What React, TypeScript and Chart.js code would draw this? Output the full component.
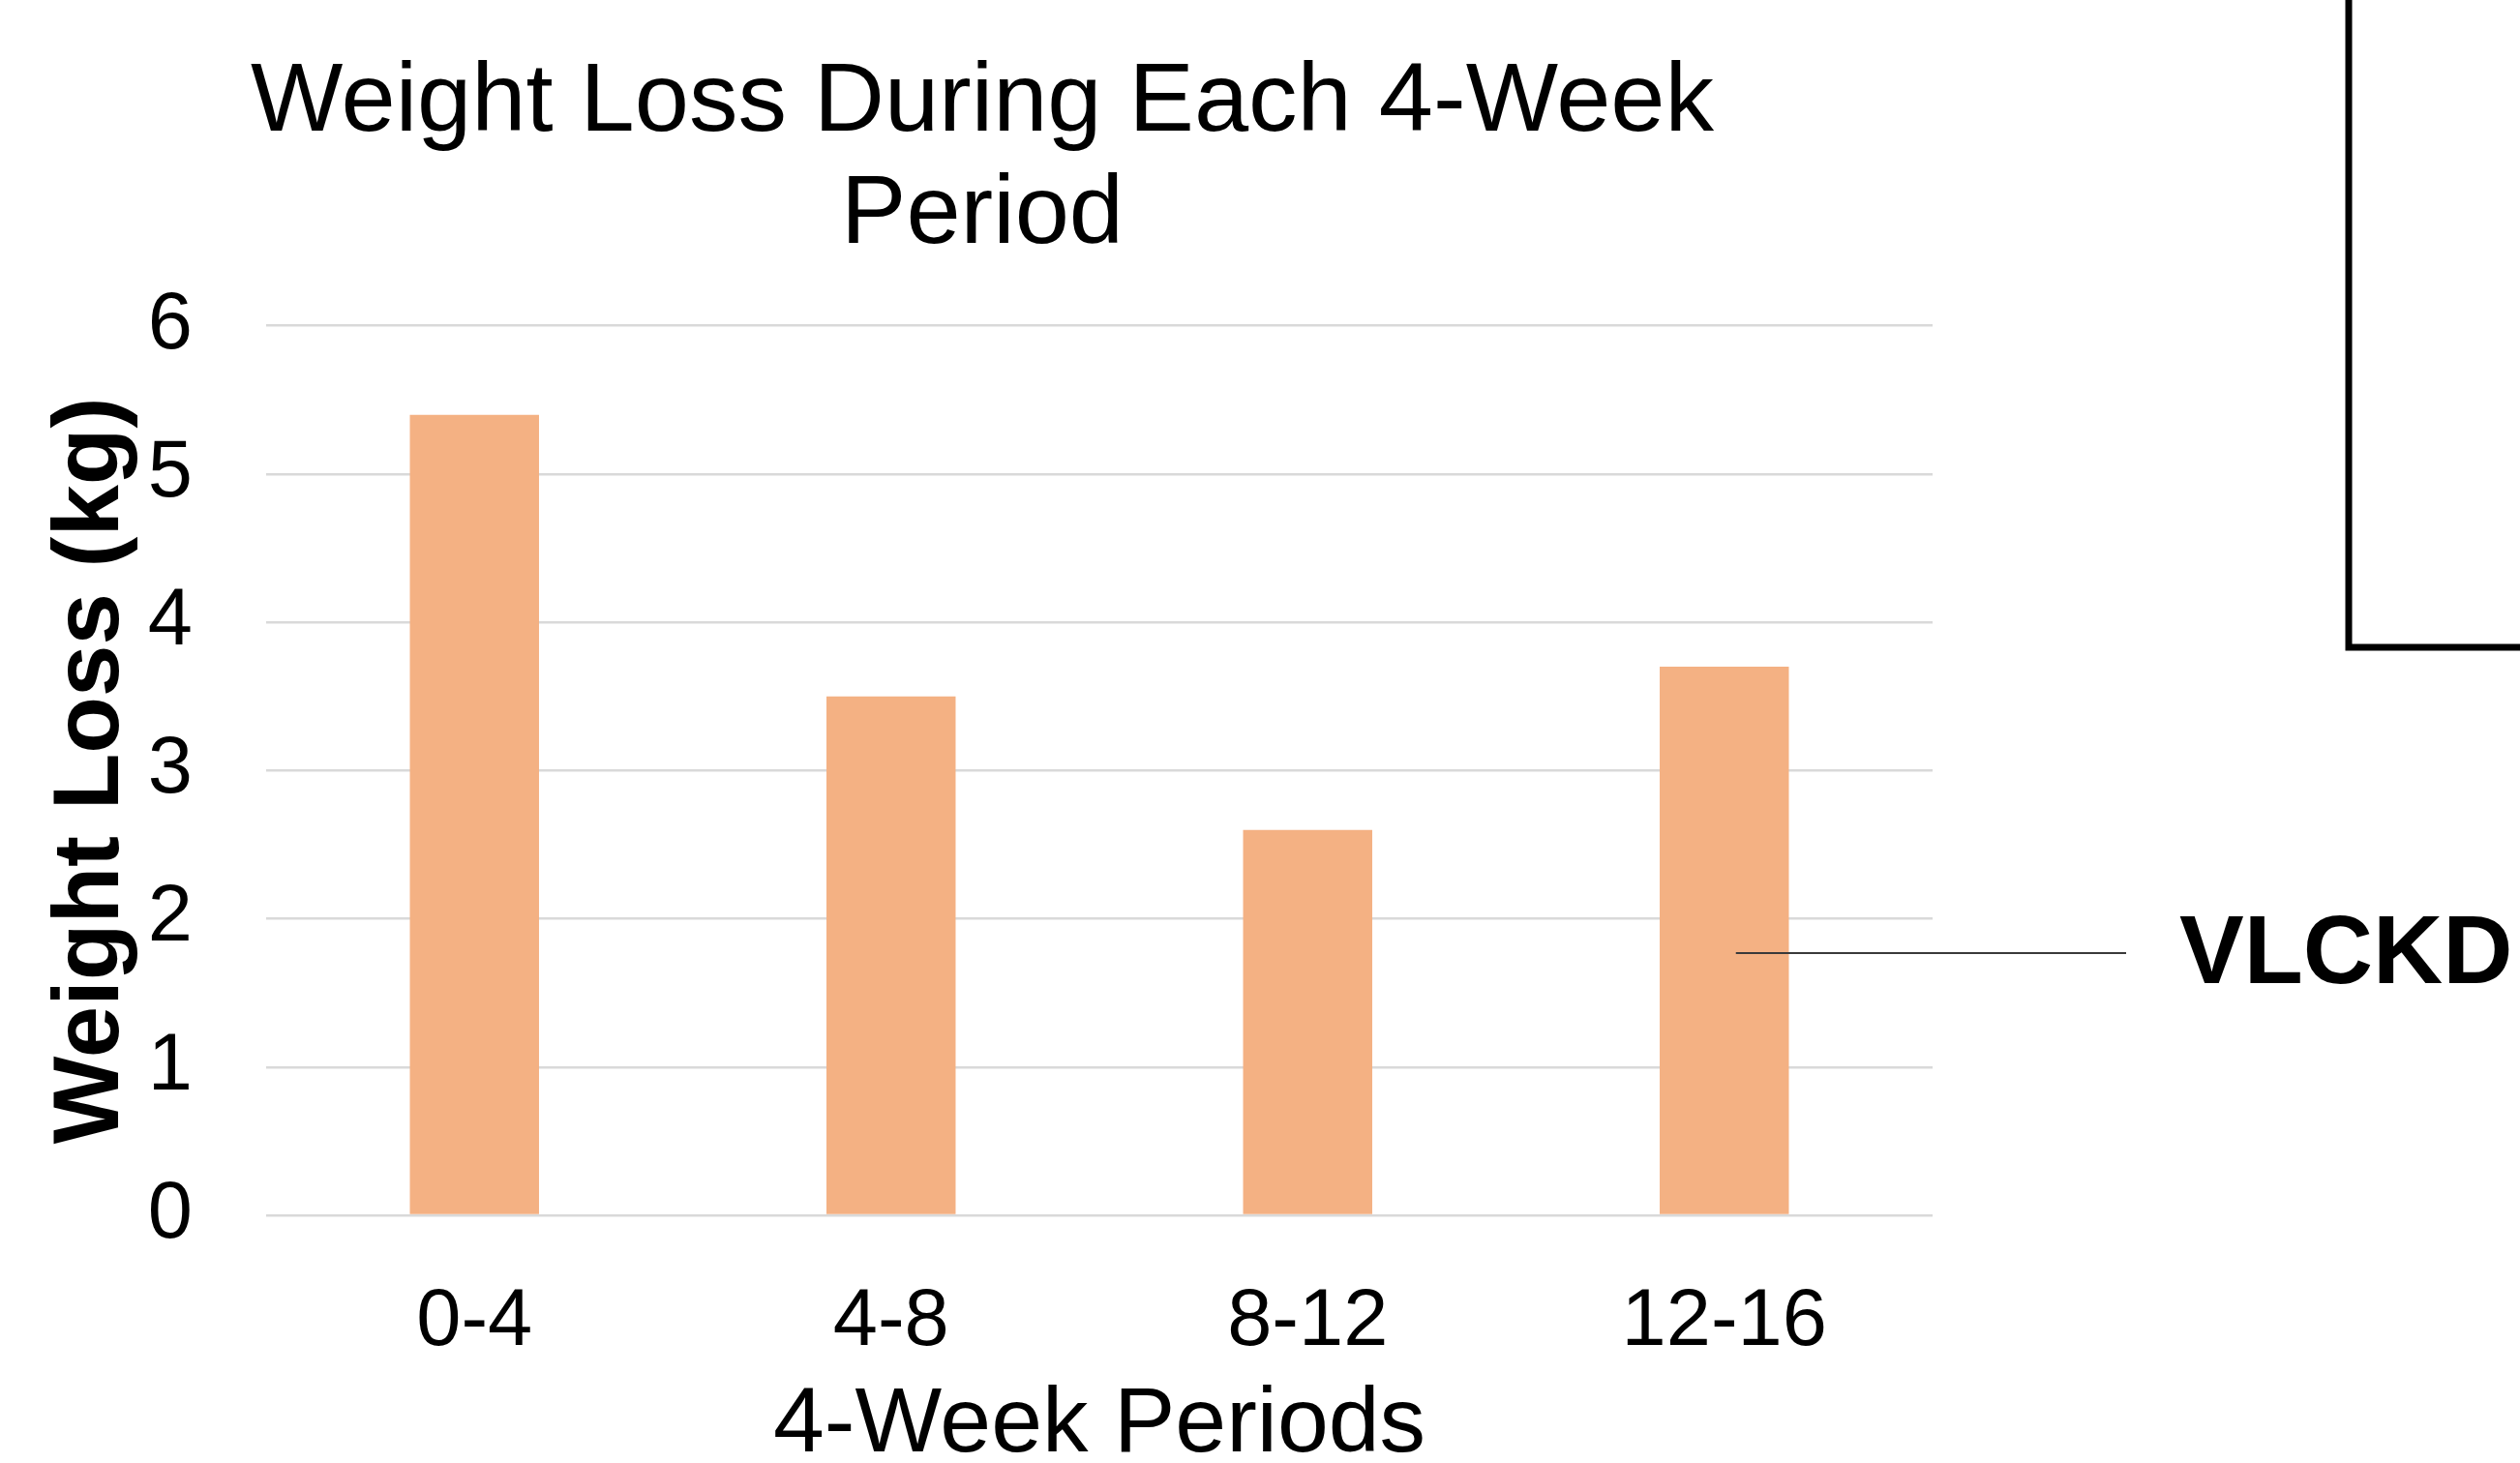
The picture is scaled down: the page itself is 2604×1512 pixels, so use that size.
import React, { useEffect, useRef } from "react";
import { Chart, registerables } from "chart.js";

Chart.register(...registerables);

const categories = ["0-4", "4-8", "8-12", "12-16"];
const weightLoss = [5.4, 3.5, 2.6, 3.7];
const titleLines = ["Weight Loss During Each 4-Week", "Period"];
const xAxisTitle = "4-Week Periods";
const yAxisTitle = "Weight Loss (kg)";
const seriesLabel = "VLCKD";
const yMin = 0;
const yMax = 6;
const yStep = 1;

const W = 2604;
const H = 1512;
const FONT = "'Liberation Sans', Arial, Helvetica, sans-serif";
const BAR_COLOR = "#F4B183";
const GRID_COLOR = "#D9D9D9";

const decorPlugin = {
  id: "decor",
  afterDraw(chart: any) {
    const ctx = chart.ctx;
    const xs = chart.scales.x;
    ctx.save();
    // callout leader line from the last bar to the series label
    const lineY = 985;
    const startX = xs.getPixelForValue(categories.length - 1) + 12;
    const endX = 2197;
    ctx.strokeStyle = "#3a3a3a";
    ctx.lineWidth = 2;
    ctx.beginPath();
    ctx.moveTo(startX, lineY);
    ctx.lineTo(endX, lineY);
    ctx.stroke();
    // series label
    ctx.fillStyle = "#000000";
    ctx.font = `bold 100px ${FONT}`;
    ctx.textAlign = "left";
    ctx.textBaseline = "middle";
    ctx.fillText(seriesLabel, 2252, lineY + 3);
    // frame at the top right
    ctx.strokeStyle = "#000000";
    ctx.lineWidth = 7;
    ctx.lineJoin = "miter";
    ctx.beginPath();
    ctx.moveTo(2427, -10);
    ctx.lineTo(2427, 669);
    ctx.lineTo(W + 10, 669);
    ctx.stroke();
    ctx.restore();
  },
};

export default function App() {
  const ref = useRef<HTMLCanvasElement | null>(null);

  useEffect(() => {
    document.body.style.margin = "0";
    const canvas = ref.current;
    if (!canvas) return;
    const chart = new Chart(canvas, {
      type: "bar",
      data: {
        labels: categories,
        datasets: [
          {
            label: seriesLabel,
            data: weightLoss,
            backgroundColor: BAR_COLOR,
            borderWidth: 0,
            barPercentage: 0.31,
            categoryPercentage: 1,
          },
        ],
      },
      options: {
        responsive: false,
        animation: false,
        devicePixelRatio: 1,
        layout: { padding: { left: 33, right: 607, top: 0, bottom: 0 } },
        plugins: {
          legend: { display: false },
          tooltip: { enabled: false },
          title: {
            display: true,
            text: titleLines,
            color: "#000000",
            font: { family: FONT, size: 101, weight: "normal", lineHeight: 1.15 },
            padding: { top: 49, bottom: 55.4 },
          },
        },
        scales: {
          x: {
            grid: { display: false },
            border: { display: false },
            ticks: {
              color: "#000000",
              font: { family: FONT, size: 83 },
              padding: 53,
              maxRotation: 0,
            },
            title: {
              display: true,
              text: xAxisTitle,
              color: "#000000",
              font: { family: FONT, size: 95, lineHeight: 0.8 },
              padding: { top: 0, bottom: 0 },
            },
            afterFit: (s: any) => {
              s.height = 256;
            },
          },
          y: {
            min: yMin,
            max: yMax,
            grid: { color: GRID_COLOR, lineWidth: 2.5, drawTicks: false },
            border: { display: false },
            ticks: {
              stepSize: yStep,
              color: "#000000",
              font: { family: FONT, size: 83 },
              padding: 76,
            },
            title: {
              display: true,
              text: yAxisTitle,
              color: "#000000",
              font: { family: FONT, size: 96, weight: "bold", lineHeight: 1.2 },
              padding: { top: 5.4, bottom: 0 },
            },
            afterFit: (s: any) => {
              s.width = 242;
            },
          },
        },
      },
      plugins: [decorPlugin],
    } as any);
    return () => chart.destroy();
  }, []);

  return (
    <div style={{ position: "absolute", left: 0, top: 0, width: W, height: H, background: "#ffffff" }}>
      <canvas ref={ref} width={W} height={H} style={{ width: W, height: H, display: "block" }} />
    </div>
  );
}
